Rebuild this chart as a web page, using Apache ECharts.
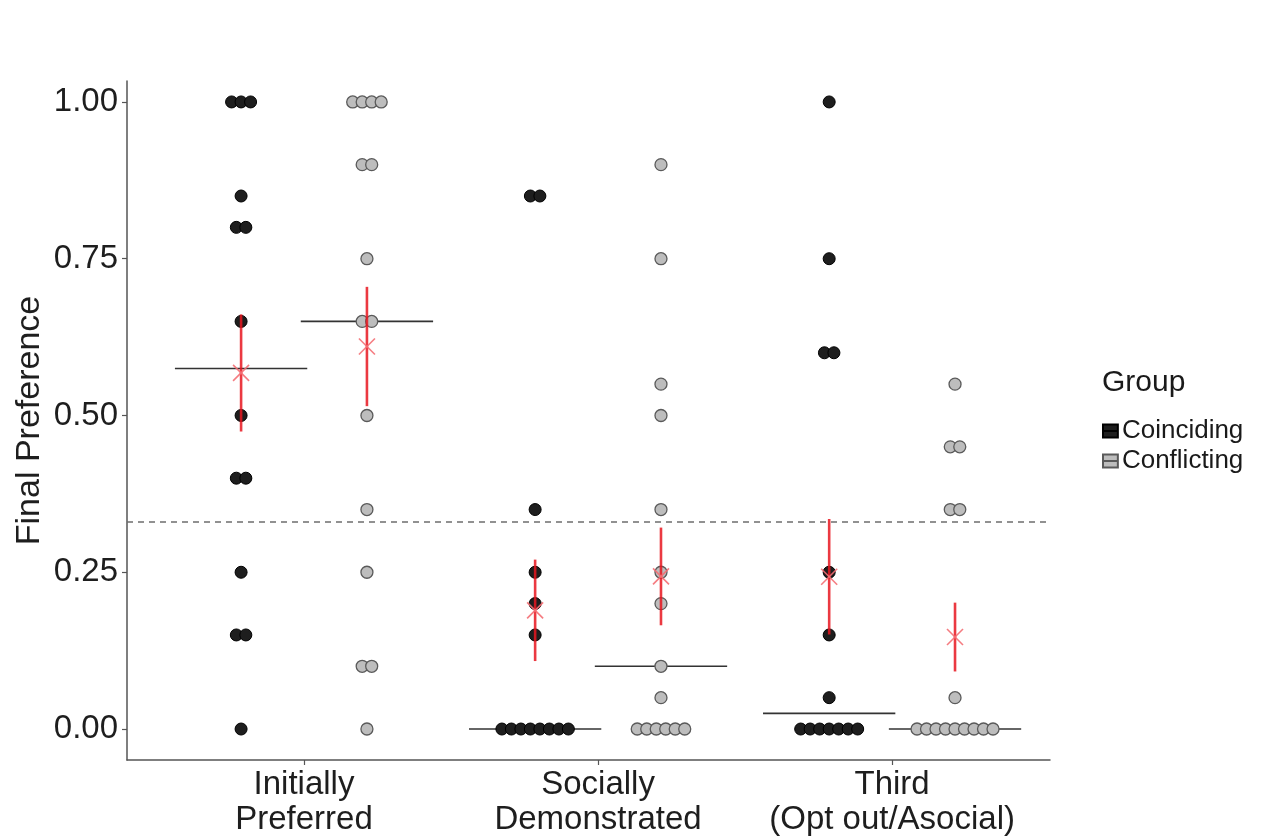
<!DOCTYPE html>
<html>
<head>
<meta charset="utf-8">
<script src="https://cdn.jsdelivr.net/npm/echarts@6/dist/echarts.min.js"></script>
<style>
  html, body { margin: 0; padding: 0; background: #fff; }
  #chart { width: 1271px; height: 838px; }
</style>
</head>
<body>
<div id="chart"></div>
<script>
// Conditions on the x axis and the two participant groups
const conditions = ['Initially\nPreferred', 'Socially\nDemonstrated', 'Third\n(Opt out/Asocial)'];
const groups = ['Coinciding', 'Conflicting'];

// Final preference score of each participant, per condition and group
const coincidingInitially = [1, 1, 1, 0.85, 0.8, 0.8, 0.65, 0.5, 0.4, 0.4, 0.25, 0.15, 0.15, 0];
const conflictingInitially = [1, 1, 1, 1, 0.9, 0.9, 0.75, 0.65, 0.65, 0.5, 0.35, 0.25, 0.1, 0.1, 0];
const coincidingSocial = [0.85, 0.85, 0.35, 0.25, 0.2, 0.15, 0, 0, 0, 0, 0, 0, 0, 0];
const conflictingSocial = [0.9, 0.75, 0.55, 0.5, 0.35, 0.25, 0.2, 0.1, 0.05, 0, 0, 0, 0, 0, 0];
const coincidingThird = [1, 0.75, 0.6, 0.6, 0.25, 0.15, 0.05, 0, 0, 0, 0, 0, 0, 0];
const conflictingThird = [0.55, 0.45, 0.45, 0.35, 0.35, 0.05, 0, 0, 0, 0, 0, 0, 0, 0, 0];

// Chance level for three options
const chanceLevel = 1 / 3;
const yTicks = [0, 0.25, 0.5, 0.75, 1];

const coinciding = [coincidingInitially, coincidingSocial, coincidingThird];
const conflicting = [conflictingInitially, conflictingSocial, conflictingThird];

const DODGE = 0.214;        // horizontal shift of each group from the condition centre
const MEDIAN_HALF = 0.225;  // half width of the median bar (axis units)
const DOT_STEP = 9.5;       // px between stacked dots with equal value
const DOT_SIZE = 12;
const FONT = 'Liberation Sans, Arial, sans-serif';

function mean(a) { return a.reduce((s, v) => s + v, 0) / a.length; }
function median(a) {
  const s = a.slice().sort((x, y) => x - y);
  const m = Math.floor(s.length / 2);
  return s.length % 2 ? s[m] : (s[m - 1] + s[m]) / 2;
}
function stdErr(a) {
  const m = mean(a);
  const v = a.reduce((s, x) => s + (x - m) * (x - m), 0) / (a.length - 1);
  return Math.sqrt(v / a.length);
}

// Dot-plot points: equal values are stacked side by side, centred on the group position
function dotPoints(sets, shift) {
  const pts = [];
  sets.forEach((vals, ci) => {
    const x = ci + 1 + shift;
    const counts = {};
    vals.forEach(v => { counts[v] = (counts[v] || 0) + 1; });
    const seen = {};
    vals.slice().sort((a, b) => a - b).forEach(v => {
      const k = seen[v] = (seen[v] || 0) + 1;
      const n = counts[v];
      pts.push({ value: [x, v], symbolOffset: [((k - 1) - (n - 1) / 2) * DOT_STEP, 0] });
    });
  });
  return pts;
}

function summaries(sets, shift) {
  return sets.map((vals, ci) => {
    const m = mean(vals), se = stdErr(vals);
    return [ci + 1 + shift, m, m - se, m + se, median(vals)];
  });
}

const summary = summaries(coinciding, -DODGE).concat(summaries(conflicting, DODGE));

// legend key: filled box with a median bar across the middle
const KEY_ICON = 'path://M0,0H16V14H0Z M0,7H16';

const chart = echarts.init(document.getElementById('chart'), null, { renderer: 'canvas' });

const option = {
  animation: false,
  backgroundColor: '#ffffff',
  textStyle: { fontFamily: FONT },
  grid: { left: 127, right: 221, top: 81, bottom: 78, containLabel: false },
  title: {
    text: 'Group',
    left: 1097, top: 363,
    textStyle: { fontSize: 30, fontWeight: 'normal', color: '#1a1a1a', fontFamily: FONT }
  },
  legend: {
    data: groups,
    orient: 'vertical',
    left: 1097, top: 413,
    itemWidth: 15, itemHeight: 13, itemGap: 4,
    icon: KEY_ICON,
    textStyle: { fontSize: 26, color: '#1a1a1a', padding: [0, 0, 0, -1], fontFamily: FONT }
  },
  xAxis: {
    type: 'value',
    min: 0.398, max: 3.537,
    splitLine: { show: false },
    axisLine: { show: true, onZero: false, lineStyle: { color: '#555', width: 1.5 } },
    axisTick: { show: true, customValues: [1, 2, 3], length: 5, lineStyle: { color: '#555', width: 1.2 } },
    axisLabel: {
      customValues: [1, 2, 3],
      formatter: v => conditions[Math.round(v) - 1],
      fontSize: 33, lineHeight: 35, color: '#1e1e1e', margin: 7
    }
  },
  yAxis: {
    type: 'value',
    min: -0.0494, max: 1.0334,
    name: 'Final Preference',
    nameLocation: 'middle',
    nameGap: 80,
    nameMoveOverlap: false,
    nameTextStyle: { fontSize: 34, color: '#1e1e1e' },
    splitLine: { show: false },
    axisLine: { show: true, onZero: false, lineStyle: { color: '#555', width: 1.5 } },
    axisTick: { show: true, customValues: yTicks, length: 5, lineStyle: { color: '#555', width: 1.2 } },
    axisLabel: {
      customValues: yTicks,
      formatter: v => v.toFixed(2),
      fontSize: 33, color: '#1e1e1e', margin: 9
    }
  },
  series: [
    {
      // median bars
      type: 'custom',
      z: 1,
      silent: true,
      data: summary.map(s => [s[0], s[4]]),
      renderItem(params, api) {
        const x = api.value(0), y = api.value(1);
        const a = api.coord([x - MEDIAN_HALF, y]);
        const b = api.coord([x + MEDIAN_HALF, y]);
        return {
          type: 'line',
          shape: { x1: a[0], y1: a[1], x2: b[0], y2: b[1] },
          style: { stroke: '#333', lineWidth: 1.6 }
        };
      },
      markLine: {
        silent: true,
        symbol: 'none',
        label: { show: false },
        lineStyle: { color: '#6e6e6e', width: 1.6, type: [6, 5] },
        data: [{ yAxis: chanceLevel }]
      }
    },
    {
      name: 'Coinciding',
      type: 'scatter',
      z: 3,
      symbol: 'circle',
      symbolSize: DOT_SIZE,
      itemStyle: { color: '#1e1e1e', borderColor: '#000', borderWidth: 1, opacity: 1 },
      data: dotPoints(coinciding, -DODGE)
    },
    {
      name: 'Conflicting',
      type: 'scatter',
      z: 3,
      symbol: 'circle',
      symbolSize: DOT_SIZE,
      itemStyle: { color: '#bdbdbd', borderColor: '#5a5a5a', borderWidth: 1.3, opacity: 1 },
      data: dotPoints(conflicting, DODGE)
    },
    {
      // mean ± standard error
      type: 'custom',
      z: 5,
      silent: true,
      data: summary.map(s => [s[0], s[1], s[2], s[3]]),
      renderItem(params, api) {
        const x = api.value(0);
        const m = api.coord([x, api.value(1)]);
        const lo = api.coord([x, api.value(2)]);
        const hi = api.coord([x, api.value(3)]);
        const c = 8;
        return {
          type: 'group',
          children: [
            {
              type: 'line',
              shape: { x1: lo[0], y1: lo[1], x2: hi[0], y2: hi[1] },
              style: { stroke: 'rgba(232, 22, 32, 0.85)', lineWidth: 2.6 }
            },
            {
              type: 'line',
              shape: { x1: m[0] - c, y1: m[1] - c, x2: m[0] + c, y2: m[1] + c },
              style: { stroke: 'rgba(244, 110, 115, 0.9)', lineWidth: 1.6 }
            },
            {
              type: 'line',
              shape: { x1: m[0] - c, y1: m[1] + c, x2: m[0] + c, y2: m[1] - c },
              style: { stroke: 'rgba(244, 110, 115, 0.9)', lineWidth: 1.6 }
            }
          ]
        };
      }
    }
  ]
};

chart.setOption(option);
</script>
</body>
</html>
